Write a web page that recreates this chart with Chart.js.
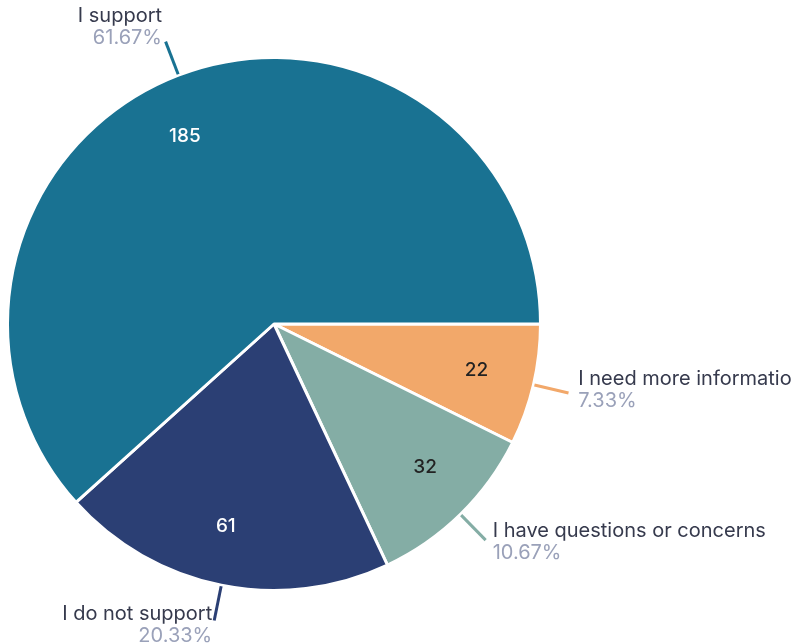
<!DOCTYPE html>
<html>
<head>
<meta charset="utf-8">
<script src="https://cdn.jsdelivr.net/npm/chart.js@4"></script>
<style>
  html, body { margin: 0; padding: 0; background: #fff; }
  #wrap { width: 793px; height: 643px; overflow: hidden; }
</style>
</head>
<body>
<div id="wrap"><canvas id="pie" width="793" height="643"></canvas></div>
<script>
/* ===== Data ===== */
const labels = ['I need more information', 'I have questions or concerns', 'I do not support', 'I support'];
const counts = [22, 32, 61, 185];
const sliceColors = ['#f2a86a', '#84ada5', '#2b3f74', '#197292'];
const valueColors = ['#222222', '#222222', '#ffffff', '#ffffff'];

/* small angle nudges (degrees) for the inside values */
const valueNudge = [-0.2, -2.2, 2, -4.4];

const total = counts.reduce((a, b) => a + b, 0);
const FONT = 'Inter, "Noto Sans", sans-serif';

/* ===== Labels plugin: values inside, callouts outside ===== */
const sliceLabels = {
  id: 'sliceLabels',
  afterDatasetsDraw(chart) {
    const ctx = chart.ctx;
    const meta = chart.getDatasetMeta(0);

    meta.data.forEach((arc, i) => {
      const { x, y, startAngle, endAngle, outerRadius } = arc.getProps(
        ['x', 'y', 'startAngle', 'endAngle', 'outerRadius'], true);
      const mid = (startAngle + endAngle) / 2;
      const cos = Math.cos(mid), sin = Math.sin(mid);

      // value inside slice
      ctx.save();
      ctx.font = '500 19px ' + FONT;
      ctx.fillStyle = valueColors[i];
      ctx.textAlign = 'center';
      ctx.textBaseline = 'middle';
      const va = mid + valueNudge[i] * Math.PI / 180;
      const r = outerRadius * 0.78;
      ctx.fillText(counts[i], x + Math.cos(va) * r, y + Math.sin(va) * r);

      // leader line
      const x1 = x + cos * (outerRadius + 1), y1 = y + sin * (outerRadius + 1);
      const x2 = x + cos * (outerRadius + 36), y2 = y + sin * (outerRadius + 36);
      ctx.strokeStyle = sliceColors[i];
      ctx.lineWidth = 3;
      ctx.beginPath();
      ctx.moveTo(x1, y1);
      ctx.lineTo(x2, y2);
      ctx.stroke();

      // callout text
      const right = cos >= 0;
      const tx = x2 + cos * 10;
      const cy = y2 + sin * 10 - 4;
      ctx.textAlign = right ? 'left' : 'right';
      ctx.font = '400 20px ' + FONT;
      ctx.fillStyle = '#363a4d';
      ctx.fillText(labels[i], tx, cy - 12);
      ctx.fillStyle = '#9aa1b9';
      ctx.fillText((counts[i] / total * 100).toFixed(2) + '%', tx, cy + 10);
      ctx.restore();
    });
  }
};

/* ===== Chart ===== */
new Chart(document.getElementById('pie'), {
  type: 'pie',
  data: {
    labels: labels,
    datasets: [{
      data: counts,
      backgroundColor: sliceColors,
      borderColor: '#ffffff',
      borderWidth: 3,
      hoverOffset: 0
    }]
  },
  options: {
    responsive: false,
    animation: false,
    rotation: 90,
    layout: { padding: { left: 6, right: 251, top: 56, bottom: 51 } },
    plugins: {
      legend: { display: false },
      tooltip: { enabled: false }
    }
  },
  plugins: [sliceLabels]
});
</script>
</body>
</html>
